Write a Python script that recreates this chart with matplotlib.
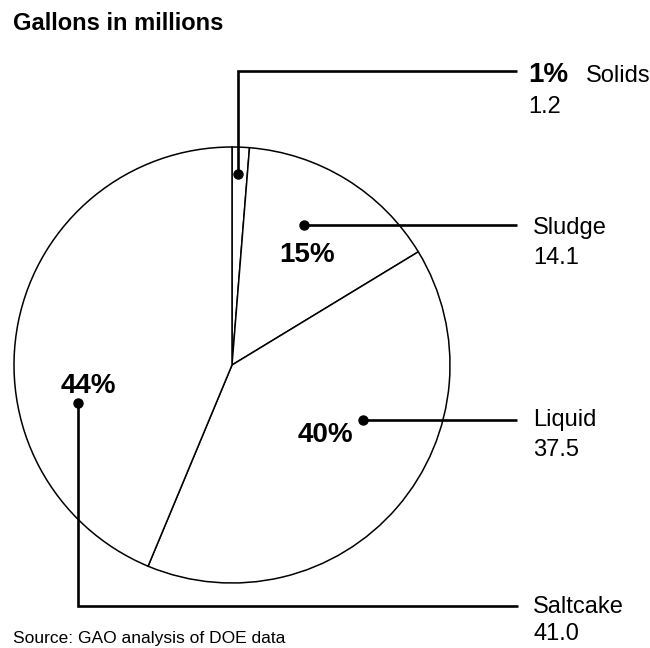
import matplotlib
matplotlib.use('Agg')
import matplotlib.pyplot as plt

plt.rcParams['font.family'] = ['Liberation Sans', 'DejaVu Sans']

categories = ['Solids', 'Sludge', 'Liquid', 'Saltcake']
gallons = [1.2, 14.1, 37.5, 41.0]
percents = ['1%', '15%', '40%', '44%']

W, H = 650, 648


def py(y):
    # pixel row (from top) -> data y
    return H - y


fig = plt.figure(figsize=(6.5, 6.48), dpi=100)
ax = fig.add_axes([0, 0, 1, 1])

ax.pie(gallons, startangle=90, counterclock=False, center=(232, py(365)), radius=218,
       colors=['white'] * len(gallons),
       wedgeprops=dict(edgecolor='black', linewidth=1.1))

ax.set_xlim(0, W)
ax.set_ylim(0, H)
ax.set_aspect('equal')
ax.axis('off')

lw = 1.9
ms = 6.5

# leader lines from a dot in each wedge out to its label
leaders = [
    [(238, 174), (238, 71), (517, 71)],
    [(304, 225), (517, 225)],
    [(363, 420), (517, 420)],
    [(78, 403), (78, 606), (518, 606)],
]
for path in leaders:
    xs = [p[0] for p in path]
    ys = [py(p[1]) for p in path]
    ax.plot(xs, ys, color='black', lw=lw, solid_capstyle='butt', solid_joinstyle='miter')
    ax.plot(xs[0], ys[0], 'o', color='black', ms=ms)

# labels on the right
ax.text(528, py(82), percents[0], fontsize=20, fontweight='bold', va='baseline')
ax.text(586, py(82), categories[0], fontsize=17, va='baseline')
ax.text(528, py(113), f'{gallons[0]:.1f}', fontsize=17, va='baseline')

right_labels = [(1, 234, 30), (2, 426, 30), (3, 613, 27)]
for i, base, gap in right_labels:
    ax.text(533, py(base), categories[i], fontsize=17, va='baseline')
    ax.text(533, py(base + gap), f'{gallons[i]:.1f}', fontsize=17, va='baseline')

# percent labels inside pie
ax.text(307, py(262), percents[1], fontsize=20, fontweight='bold', ha='center', va='baseline')
ax.text(325, py(442), percents[2], fontsize=20, fontweight='bold', ha='center', va='baseline')
ax.text(88, py(393), percents[3], fontsize=20, fontweight='bold', ha='center', va='baseline')

ax.text(13, py(30), 'Gallons in millions', fontsize=17, fontweight='bold', va='baseline')
ax.text(13, py(643), 'Source: GAO analysis of DOE data', fontsize=12.5, va='baseline')

fig.savefig('out.png', dpi=100)
